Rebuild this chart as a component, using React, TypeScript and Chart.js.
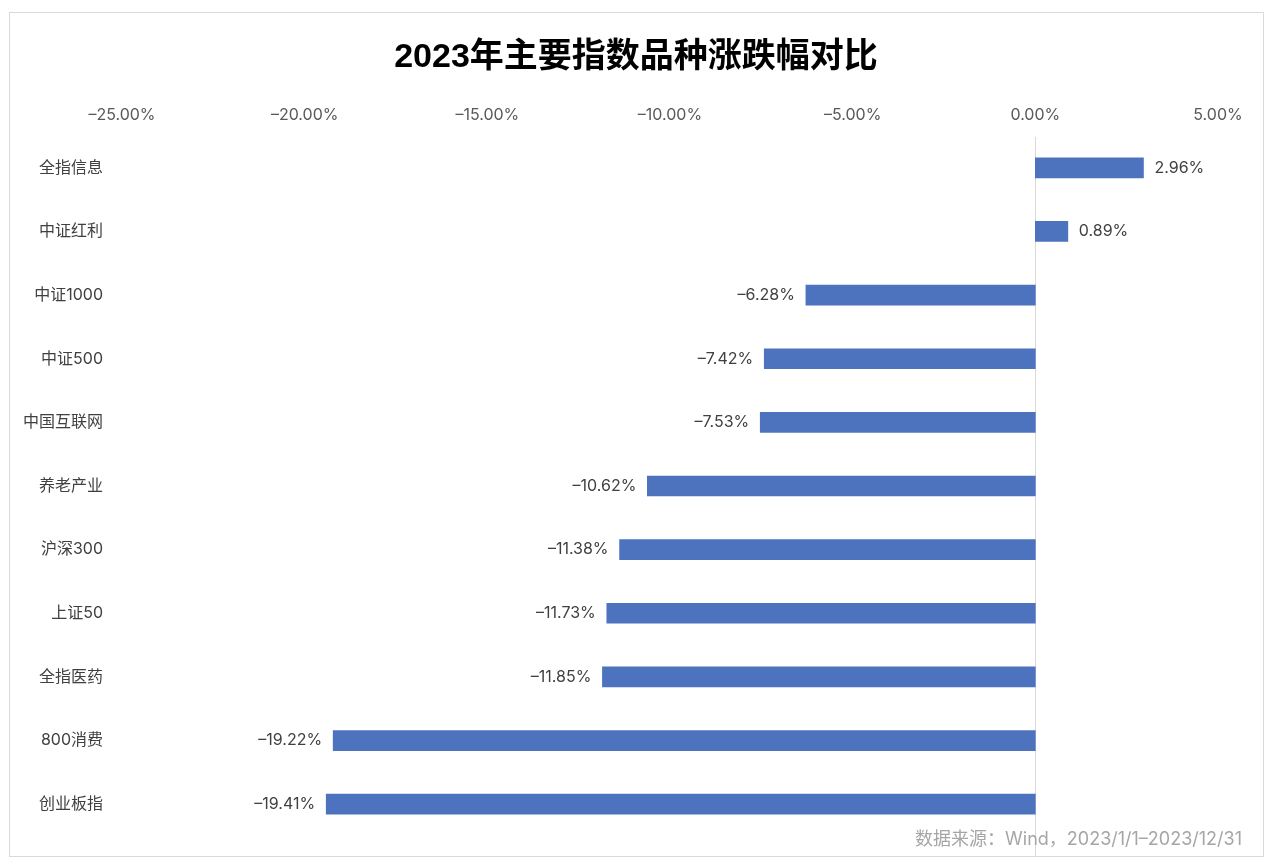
import React, { useEffect, useRef } from "react";
import { Chart, registerables } from "chart.js";

Chart.register(...registerables);

const TITLE = "2023年主要指数品种涨跌幅对比";
const SOURCE = "数据来源：Wind，2023/1/1–2023/12/31";
const categories = ["全指信息", "中证红利", "中证1000", "中证500", "中国互联网", "养老产业", "沪深300", "上证50", "全指医药", "800消费", "创业板指"];
const values = [2.96, 0.89, -6.28, -7.42, -7.53, -10.62, -11.38, -11.73, -11.85, -19.22, -19.41];
const xMin = -25;
const xMax = 5;
const xStep = 5;

const FONT = 'Inter, "Noto Sans CJK SC", sans-serif';
const TITLE_FONT = '"Liberation Sans", "Noto Sans CJK SC", sans-serif';

const fmt = (v: number, d: number) => (v < 0 ? "–" : "") + Math.abs(v).toFixed(d) + "%";

const decor = {
  id: "decor",
  beforeDraw(chart: any) {
    const ctx = chart.ctx;
    ctx.save();
    ctx.fillStyle = "#ffffff";
    ctx.fillRect(0, 0, chart.width, chart.height);
    ctx.strokeStyle = "#d9d9d9";
    ctx.lineWidth = 1;
    ctx.strokeRect(9.5, 12.5, 1254, 844);
    const x0 = Math.round(chart.scales.x.getPixelForValue(0)) + 0.5;
    ctx.strokeStyle = "#d9d9d9";
    ctx.beginPath();
    ctx.moveTo(x0, chart.chartArea.top + 1);
    ctx.lineTo(x0, 856);
    ctx.stroke();
    ctx.restore();
  },
  afterDraw(chart: any) {
    const ctx = chart.ctx;
    ctx.save();
    ctx.fillStyle = "#000000";
    ctx.font = `bold 34px ${TITLE_FONT}`;
    ctx.textAlign = "center";
    ctx.textBaseline = "middle";
    ctx.fillText(TITLE, 636, 58);
    ctx.fillStyle = "#a6a6a6";
    ctx.font = `18px ${FONT}`;
    ctx.textAlign = "right";
    ctx.fillText(SOURCE, 1242, 840);
    const meta = chart.getDatasetMeta(0);
    ctx.fillStyle = "#404040";
    ctx.font = `16px ${FONT}`;
    meta.data.forEach((bar: any, i: number) => {
      const v = values[i];
      if (v >= 0) {
        ctx.textAlign = "left";
        ctx.fillText(fmt(v, 2), bar.x + 11, bar.y);
      } else {
        ctx.textAlign = "right";
        ctx.fillText(fmt(v, 2), bar.x - 11, bar.y);
      }
    });
    ctx.restore();
  },
};

export default function App() {
  const ref = useRef<HTMLCanvasElement>(null);
  useEffect(() => {
    if (!ref.current) return;
    const chart = new Chart(ref.current, {
      type: "bar",
      data: {
        labels: categories,
        datasets: [
          {
            data: values,
            backgroundColor: "#4e73be",
            barThickness: 20,
          },
        ],
      },
      options: {
        indexAxis: "y",
        animation: false,
        responsive: false,
        devicePixelRatio: 1,
        layout: { padding: { top: 99, right: 62, bottom: 32, left: 0 } },
        plugins: { legend: { display: false }, tooltip: { enabled: false }, title: { display: false } },
        scales: {
          x: {
            position: "top",
            min: xMin,
            max: xMax,
            grid: { display: false, drawTicks: false },
            border: { display: false },
            ticks: {
              stepSize: xStep,
              padding: 11,
              color: "#595959",
              font: { family: FONT, size: 16 },
              callback: (v: any) => fmt(Number(v), 2),
            },
            afterFit: (s: any) => {
              s.height = 37;
            },
          },
          y: {
            grid: { display: false, drawTicks: false },
            border: { display: false },
            ticks: {
              padding: 19,
              color: "#404040",
              font: { family: FONT, size: 16 },
            },
            afterFit: (s: any) => {
              s.width = 122;
            },
          },
        },
      },
      plugins: [decor],
    });
    return () => chart.destroy();
  }, []);
  return (
    <div style={{ position: "fixed", left: 0, top: 0, width: 1280, height: 868, background: "#fff" }}>
      <canvas ref={ref} width={1280} height={868} style={{ display: "block", width: 1280, height: 868 }} />
    </div>
  );
}
